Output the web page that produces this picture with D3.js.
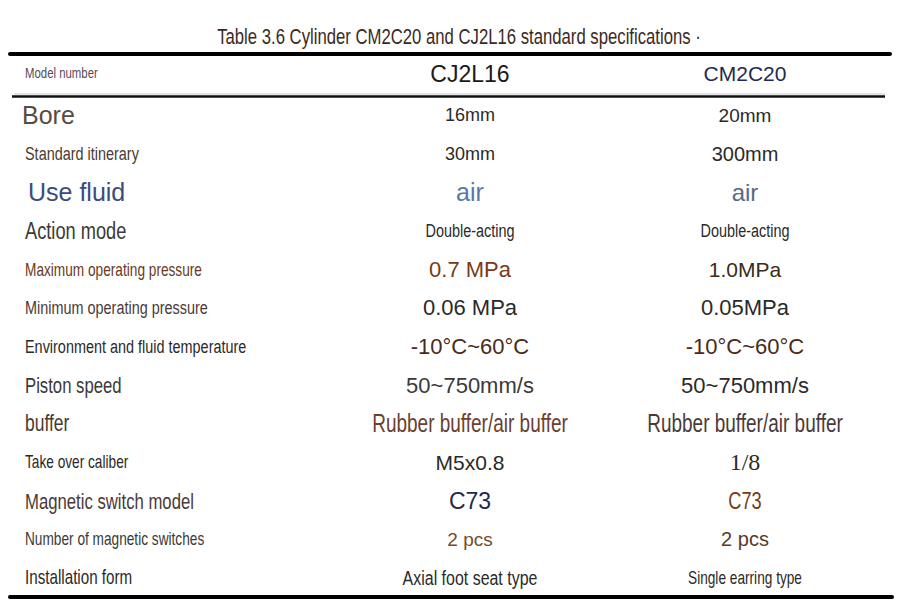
<!DOCTYPE html>
<html><head><meta charset="utf-8">
<script src="https://cdn.jsdelivr.net/npm/d3@7"></script>
<style>body{margin:0;background:#fff}</style>
</head><body><div id="chart"></div>
<script>
// Table content
const title = "Table 3.6 Cylinder CM2C20 and CJ2L16 standard specifications \u00b7";
const headers = ["Model number", "CJ2L16", "CM2C20"];
const labels = ["Bore", "Standard itinerary", "Use fluid", "Action mode", "Maximum operating pressure",
  "Minimum operating pressure", "Environment and fluid temperature", "Piston speed", "buffer",
  "Take over caliber", "Magnetic switch model", "Number of magnetic switches", "Installation form"];
const cj2l16 = ["16mm", "30mm", "air", "Double-acting", "0.7 MPa", "0.06 MPa", "-10\u00b0C~60\u00b0C",
  "50~750mm/s", "Rubber buffer/air buffer", "M5x0.8", "C73", "2 pcs", "Axial foot seat type"];
const cm2c20 = ["20mm", "300mm", "air", "Double-acting", "1.0MPa", "0.05MPa", "-10\u00b0C~60\u00b0C",
  "50~750mm/s", "Rubber buffer/air buffer", "1/8", "C73", "2 pcs", "Single earring type"];

// styles per cell: [size, color, kind] kind 0 normal, 1 condensed, 2 serif
const labelStyle = [
  [25, "#5a4a42", 0], [19, "#4a3a30", 1], [25, "#3b4c7c", 0], [24, "#3a3a3a", 1], [18, "#6a3a20", 1],
  [19, "#4a3a3a", 1], [19, "#2a2a2a", 1], [22, "#3a3a3a", 1], [23, "#4a3a30", 1], [18, "#2a2a2a", 1],
  [22, "#4a3a3a", 1], [18, "#3a3a3a", 1], [20, "#2a2a2a", 1]];
const cellStyle1 = [
  [18, "#2a2a2a", 0], [18, "#2a2a2a", 0], [25, "#5a78a8", 0], [19, "#2a2a2a", 1], [22, "#7a3a1a", 0],
  [22, "#2a2a2a", 0], [22, "#4a2a1a", 0], [22, "#3a3a3a", 0], [25, "#6a4030", 1], [21, "#2a2a2a", 0],
  [23, "#1f2a50", 0], [19, "#7a4a2a", 0], [21, "#2a2a2a", 1]];
const cellStyle2 = [
  [19, "#2a2a2a", 0], [20, "#2a2a2a", 0], [24, "#5a6a88", 0], [19, "#2a2a2a", 1], [21, "#3a2a1a", 0],
  [22, "#2a2a2a", 0], [22, "#4a2a1a", 0], [22, "#2a2a2a", 0], [25, "#4a3a3a", 1], [24, "#2a2a2a", 2],
  [24, "#7a3a1a", 1], [20, "#5a3a2a", 0], [18, "#2a2a2a", 1]];

const W = 910, H = 613;
const svg = d3.select("#chart").append("svg").attr("width", W).attr("height", H);

const y = d3.scaleBand().domain(labels).range([96, 597]);
const colX = [22, 470, 745];

function put(txt, x, yy, st, anchor) {
  const fam = st[2] === 2 ? "'Liberation Serif', serif" : "'Liberation Sans', Arial, sans-serif";
  const t = svg.append("text").attr("x", x).attr("y", yy)
    .attr("font-family", fam).attr("font-size", st[0]).attr("fill", st[1])
    .attr("text-anchor", anchor).attr("dominant-baseline", "central").text(txt);
  if (st[2] === 1) t.attr("transform", `translate(${x},${yy}) scale(0.76,1) translate(${-x},${-yy})`);
}

put(title, 459, 36, [22, "#3a2a24", 1], "middle");
put(headers[0], 25, 73, [15, "#5a4a60", 1], "start");
put(headers[1], 470, 74, [23, "#1a1a1a", 0], "middle");
put(headers[2], 745, 73, [21, "#1f2a50", 0], "middle");

labels.forEach((l, i) => {
  const cy = y(l) + y.bandwidth() / 2;
  put(l, colX[0] + (i === 2 ? 6 : i === 0 ? 0 : 3), cy, labelStyle[i], "start");
  put(cj2l16[i], colX[1], cy, cellStyle1[i], "middle");
  put(cm2c20[i], colX[2], cy, cellStyle2[i], "middle");
});

svg.append("line").attr("x1", 10).attr("x2", 890).attr("y1", 54).attr("y2", 54)
  .attr("stroke", "#000").attr("stroke-width", 4).attr("stroke-linecap", "round");
svg.append("line").attr("x1", 14).attr("x2", 885).attr("y1", 94).attr("y2", 94)
  .attr("stroke", "#ccc").attr("stroke-width", 1);
svg.append("line").attr("x1", 12).attr("x2", 885).attr("y1", 96.5).attr("y2", 96.5)
  .attr("stroke", "#111").attr("stroke-width", 2.5);
svg.append("line").attr("x1", 10).attr("x2", 892).attr("y1", 597).attr("y2", 597)
  .attr("stroke", "#000").attr("stroke-width", 4).attr("stroke-linecap", "round");
</script></body></html>
